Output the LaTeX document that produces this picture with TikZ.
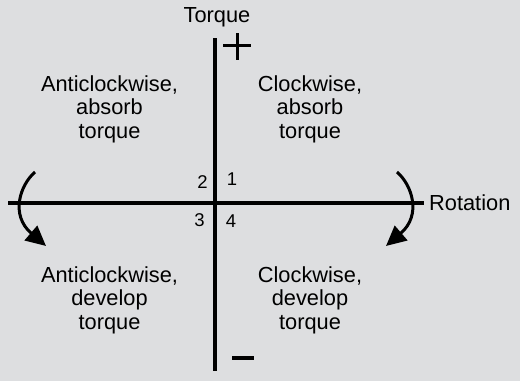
\documentclass[tikz,border=0pt]{standalone}
\usepackage{fontspec}
\setmainfont{Liberation Sans}
\usetikzlibrary{arrows.meta}
\definecolor{bg}{RGB}{221,222,224}
\begin{document}
\begin{tikzpicture}[x=1pt,y=-1pt,
  axis/.style={line width=4pt,black},
  sign/.style={line width=3pt,black},
  rotarrow/.style={line width=3pt,black,-{Triangle[length=20pt,width=19pt]}},
  quad/.style={align=center,inner sep=0pt,font=\fontsize{21.8}{23.5}\selectfont},
  lab/.style={inner sep=0pt,font=\fontsize{21.8}{23.5}\selectfont},
  num/.style={inner sep=0pt,anchor=base,font=\fontsize{18.5}{20}\selectfont}]
\fill[bg] (0,0) rectangle (520,381);
\useasboundingbox (0,0) rectangle (520,381);
% axes
\coordinate (vtop) at (215,38);
\coordinate (vbot) at (215,371);
\coordinate (hleft) at (8,203);
\coordinate (hright) at (424,203);
\draw[axis] (vtop) -- (vbot);
\draw[axis] (hleft) -- (hright);
% plus and minus
\coordinate (p1) at (223,45); \coordinate (p2) at (251,45);
\coordinate (p3) at (237,33); \coordinate (p4) at (237,60);
\draw[sign] (p1) -- (p2);
\draw[sign] (p3) -- (p4);
\coordinate (m1) at (232,358); \coordinate (m2) at (254,358);
\draw[line width=3.5pt] (m1) -- (m2);
% labels
\node[lab,anchor=base] (torque) at (217,22.7) {Torque};
\node[lab,anchor=base west] (rotation) at (429,210) {Rotation};
\node[num] (n2) at (202.5,188) {2};
\node[num] (n1) at (232,185) {1};
\node[num] (n3) at (199.5,226) {3};
\node[num] (n4) at (231,227) {4};
% quadrant texts
\node[quad] (q2) at (109.5,109) {Anticlockwise,\\absorb\\torque};
\node[quad] (q1) at (310,109) {Clockwise,\\absorb\\torque};
\node[quad] (q3) at (109.5,300) {Anticlockwise,\\develop\\torque};
\node[quad] (q4) at (310,300) {Clockwise,\\develop\\torque};
% rotation arrows
\coordinate (la) at (35,172); \coordinate (lb) at (46,246);
\coordinate (ra) at (397,172); \coordinate (rb) at (386,246);
\draw[rotarrow] (la) .. controls (20,185) and (10,215) .. (lb);
\draw[rotarrow] (ra) .. controls (412,185) and (422,215) .. (rb);
\end{tikzpicture}
\end{document}
